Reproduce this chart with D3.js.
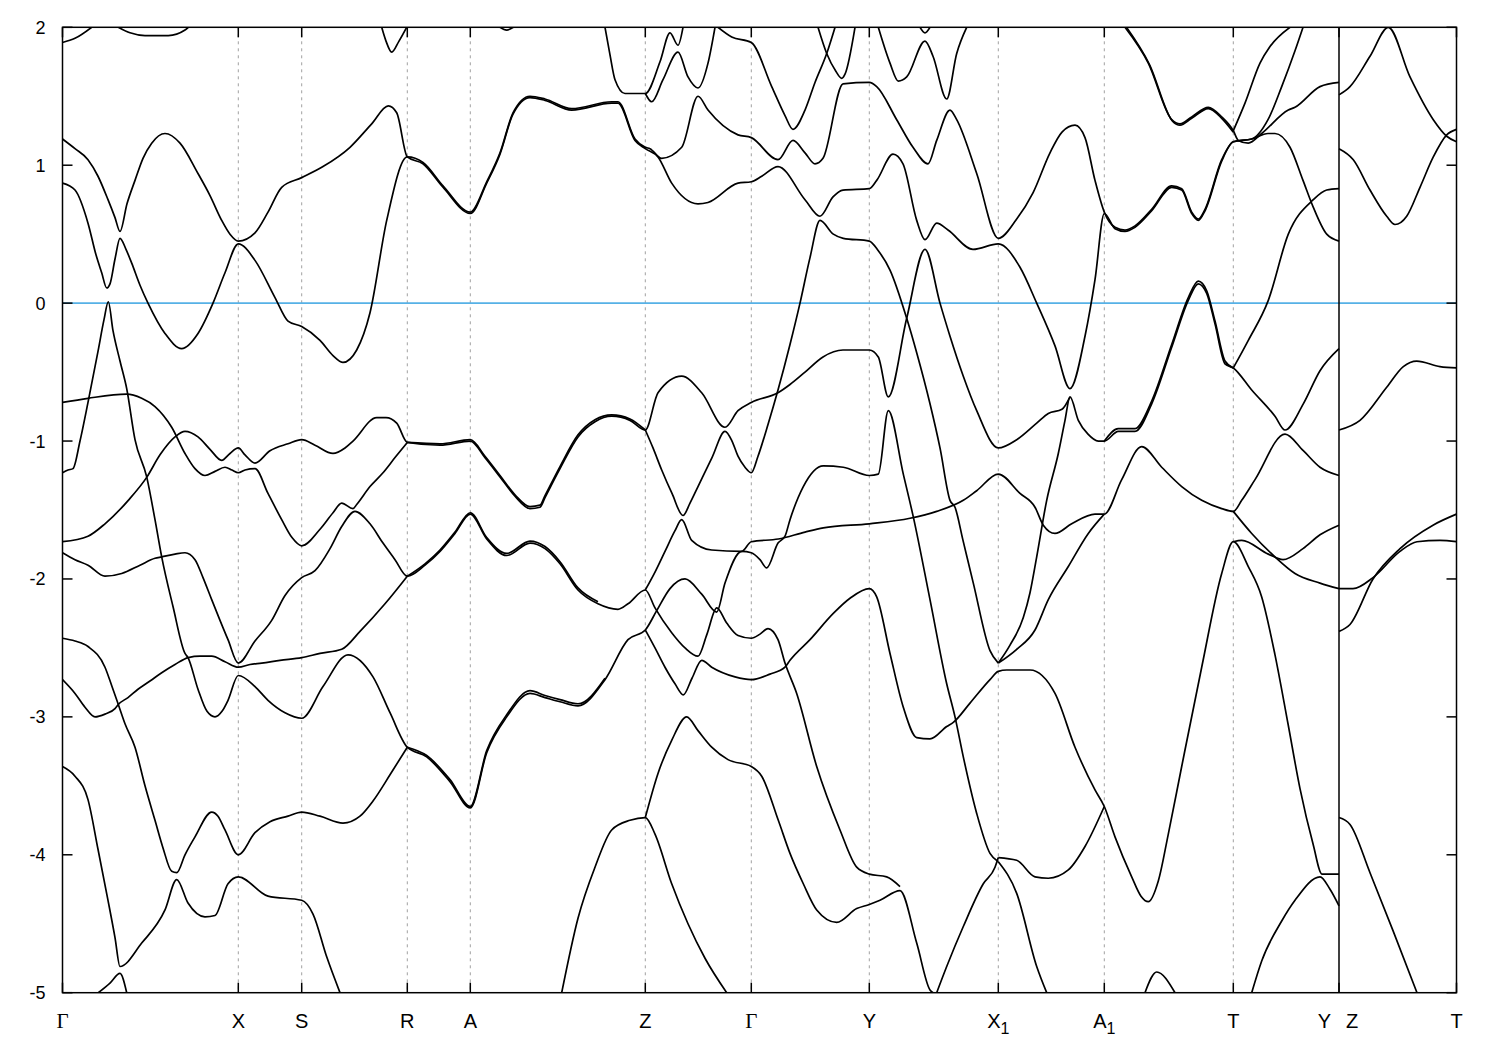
<!DOCTYPE html>
<html><head><meta charset="utf-8">
<script src="https://cdn.jsdelivr.net/npm/d3@7"></script>
<style>body{margin:0;background:#fff}svg{display:block}</style>
</head><body>
<svg id="chart" width="1500" height="1050"></svg>
<script>
// k-path positions (path length, arbitrary units) and their labels
const kTicks  = [0, 1.758, 2.392, 3.448, 4.078, 5.828, 6.888, 8.068, 9.358, 10.418, 11.708, 12.765, 13.94];
const kLabels = ["Γ", "X", "S", "R", "A", "Z", "Γ", "Y", "X_1", "A_1", "T", "Y|Z", "T"];
const breakTicks = [12.765];           // discontinuity of the path
const eTicks  = [2, 1, 0, -1, -2, -3, -4, -5];
const eDomain = [-5, 2];
const kDomain = [0, 13.94];
const fermiLevel = 0;

// band curves: [k, E(eV)]
const bands = [
 [[0,1.19],[0.125,1.12],[0.255,1.04],[0.355,0.92],[0.455,0.75],[0.525,0.62],[0.575,0.52],[0.645,0.72],[0.725,0.89],[0.805,1.05],[0.892,1.16],[1.025,1.23],[1.175,1.16],[1.355,0.94],[1.475,0.78],[1.592,0.60],[1.675,0.50],[1.758,0.45],[1.925,0.51],[2.055,0.66],[2.192,0.84],[2.392,0.91],[2.605,0.99],[2.875,1.13],[3.092,1.30],[3.258,1.43],[3.342,1.38],[3.448,1.06],[3.605,1.01],[3.805,0.84],[4.078,0.65],[4.242,0.87],[4.375,1.08],[4.505,1.37],[4.675,1.49],[4.825,1.47],[5.092,1.40],[5.492,1.45],[5.555,1.45],[5.725,1.18],[5.828,1.12],[5.955,1.06],[6.092,0.87],[6.355,0.72],[6.455,0.73],[6.755,0.87],[6.888,0.88],[6.992,0.92],[7.155,0.99],[7.425,0.75],[7.575,0.63],[7.705,0.77],[7.805,0.82],[8.068,0.83],[8.142,0.89],[8.305,1.08],[8.405,1.01],[8.542,0.60],[8.625,0.46],[8.742,0.58],[8.855,0.53],[9.105,0.39],[9.358,0.43],[9.575,0.26],[9.742,0.0],[9.925,-0.31],[10.075,-0.62],[10.225,-0.24],[10.325,0.17],[10.418,0.65],[10.525,0.54],[10.625,0.52],[10.725,0.55],[10.892,0.67],[11.092,0.84],[11.192,0.82],[11.292,0.65],[11.358,0.60],[11.425,0.67],[11.592,1.03],[11.708,1.17],[11.892,1.19],[12.055,1.23],[12.125,1.23],[12.275,1.13],[12.405,0.89],[12.505,0.70],[12.642,0.50],[12.765,0.45]],
 [[0,0.87],[0.125,0.82],[0.255,0.58],[0.335,0.35],[0.392,0.22],[0.442,0.11],[0.475,0.14],[0.525,0.32],[0.575,0.47],[0.635,0.39],[0.692,0.29],[0.775,0.13],[0.855,0.0],[1.025,-0.22],[1.192,-0.33],[1.355,-0.22],[1.505,0.0],[1.625,0.22],[1.758,0.43],[1.925,0.31],[2.125,0.04],[2.255,-0.13],[2.392,-0.17],[2.575,-0.27],[2.705,-0.38],[2.805,-0.43],[2.942,-0.34],[3.075,-0.07],[3.242,0.60],[3.448,1.06],[3.605,1.02],[3.805,0.85],[4.078,0.66],[4.242,0.88],[4.375,1.09],[4.505,1.38],[4.675,1.50],[4.825,1.48],[5.092,1.41],[5.492,1.46],[5.555,1.46],[5.725,1.19],[5.828,1.13],[5.875,1.12],[5.992,1.05],[6.192,1.13],[6.355,1.50],[6.455,1.40],[6.755,1.22],[6.888,1.20],[7.155,1.04],[7.305,1.18],[7.425,1.09],[7.525,1.01],[7.605,1.05],[7.805,1.59],[8.068,1.60],[8.142,1.57],[8.342,1.33],[8.505,1.13],[8.655,1.01],[8.742,1.18],[8.875,1.40],[8.942,1.33],[9.142,0.94],[9.358,0.47],[9.542,0.61],[9.705,0.80],[9.875,1.09],[9.995,1.24],[10.125,1.29],[10.225,1.20],[10.325,0.89],[10.418,0.66],[10.525,0.55],[10.625,0.53],[10.725,0.56],[10.892,0.68],[11.092,0.85],[11.192,0.83],[11.292,0.66],[11.358,0.61],[11.425,0.68],[11.592,1.04],[11.708,1.17],[11.892,1.19],[12.055,1.33],[12.192,1.57],[12.325,1.83],[12.405,2.0]],
 [[6.555,2.0],[6.692,1.93],[6.888,1.89],[7.092,1.57],[7.225,1.36],[7.305,1.26],[7.425,1.40],[7.525,1.60],[7.642,1.81],[7.725,2.0]],
 [[7.555,2.0],[7.642,1.81],[7.735,1.68],[7.792,1.63],[7.825,1.66],[7.925,2.0]],
 [[5.425,2.0],[5.475,1.8],[5.525,1.62],[5.625,1.52],[5.828,1.52],[5.975,1.75],[6.075,1.96],[6.155,1.87],[6.205,2.0]],
 [[5.828,1.52],[5.892,1.46],[6.005,1.62],[6.155,1.82],[6.255,1.64],[6.355,1.56],[6.455,1.74],[6.525,2.0]],
 [[8.158,2.0],[8.275,1.74],[8.358,1.61],[8.442,1.64],[8.625,1.90],[8.705,1.79],[8.842,1.48],[8.942,1.81],[9.042,2.0]],
 [[8.575,2.0],[8.625,1.96],[8.675,2.0]],
 [[0,1.89],[0.125,1.92],[0.292,2.0]],
 [[0.558,2.0],[0.675,1.96],[0.825,1.94],[1.058,1.94],[1.225,1.98],[1.258,2.0]],
 [[3.192,2.0],[3.235,1.9],[3.292,1.82],[3.365,1.9],[3.442,2.0]],
 [[4.375,2.0],[4.442,1.98],[4.508,2.0]],
 [[10.625,2.0],[10.858,1.74],[11.092,1.33],[11.175,1.30],[11.292,1.35],[11.458,1.42],[11.592,1.35],[11.708,1.25],[11.758,1.18],[11.858,1.16],[11.992,1.23],[12.258,1.40],[12.325,1.42],[12.575,1.57],[12.765,1.60]],
 [[10.64,2.0],[10.87,1.73],[11.10,1.32],[11.175,1.29],[11.292,1.34],[11.458,1.41],[11.592,1.34],[11.708,1.24]],
 [[11.708,1.25],[11.825,1.45],[11.975,1.74],[12.075,1.86],[12.275,2.0]],
 [[12.765,1.51],[12.875,1.57],[13.075,1.79],[13.258,2.0],[13.475,1.64],[13.708,1.33],[13.842,1.21],[13.94,1.17]],
 [[12.765,1.12],[12.908,1.04],[13.075,0.82],[13.242,0.63],[13.325,0.57],[13.442,0.63],[13.575,0.84],[13.708,1.06],[13.842,1.22],[13.94,1.26]],
 [[12.765,-0.92],[12.975,-0.85],[13.242,-0.61],[13.408,-0.46],[13.542,-0.42],[13.775,-0.46],[13.94,-0.47]],
 [[12.765,-2.07],[12.905,-2.07],[13.105,-1.99],[13.375,-1.80],[13.545,-1.73],[13.775,-1.72],[13.94,-1.73]],
 [[12.765,-2.38],[12.875,-2.33],[13.105,-2.0],[13.375,-1.78],[13.705,-1.61],[13.94,-1.53]],
 [[12.765,-3.73],[12.875,-3.78],[13.075,-4.13],[13.305,-4.55],[13.545,-5.0]],
 [[0,-1.73],[0.255,-1.69],[0.425,-1.6],[0.658,-1.43],[0.845,-1.26],[0.975,-1.1],[1.125,-0.97],[1.225,-0.93],[1.355,-0.97],[1.475,-1.06],[1.592,-1.14],[1.675,-1.09],[1.758,-1.05],[1.825,-1.1],[1.925,-1.16],[2.075,-1.07],[2.255,-1.02],[2.392,-0.99],[2.525,-1.03],[2.705,-1.09],[2.825,-1.05],[2.905,-1.0],[3.142,-0.83],[3.235,-0.83],[3.342,-0.87],[3.448,-1.01],[3.775,-1.03],[4.078,-1.0],[4.225,-1.12],[4.375,-1.26],[4.525,-1.4],[4.675,-1.49],[4.775,-1.48],[4.825,-1.41],[4.975,-1.2],[5.155,-0.97],[5.325,-0.86],[5.492,-0.82],[5.675,-0.85],[5.828,-0.92],[5.955,-0.65],[6.192,-0.53],[6.392,-0.65],[6.625,-0.90],[6.755,-0.78],[6.888,-0.72],[7.155,-0.65],[7.275,-0.59],[7.425,-0.50],[7.605,-0.39],[7.805,-0.34],[8.068,-0.34],[8.158,-0.39],[8.258,-0.68],[8.442,-0.11],[8.625,0.39],[8.775,0.0],[8.875,-0.24],[9.008,-0.53],[9.142,-0.78],[9.358,-1.05],[9.542,-0.99],[9.742,-0.87],[9.858,-0.80],[9.995,-0.77],[10.075,-0.68]],
 [[3.448,-1.01],[3.775,-1.02],[4.078,-0.99],[4.225,-1.11],[4.375,-1.25],[4.525,-1.39],[4.675,-1.475],[4.775,-1.465],[4.825,-1.395],[4.975,-1.185],[5.155,-0.955],[5.325,-0.845],[5.492,-0.81],[5.675,-0.84],[5.828,-0.92]],
 [[0,-0.72],[0.255,-0.69],[0.642,-0.66],[0.792,-0.69],[0.925,-0.75],[1.092,-0.90],[1.225,-1.09],[1.325,-1.2],[1.425,-1.25],[1.525,-1.22],[1.625,-1.19],[1.695,-1.21],[1.758,-1.23],[1.825,-1.21],[1.925,-1.20],[2.055,-1.38],[2.192,-1.57],[2.295,-1.7],[2.392,-1.76],[2.575,-1.64],[2.705,-1.52],[2.792,-1.45],[2.905,-1.49],[2.942,-1.46],[3.075,-1.33],[3.205,-1.23],[3.325,-1.12],[3.448,-1.01]],
 [[0,-1.23],[0.055,-1.21],[0.105,-1.2],[0.175,-1.0],[0.255,-0.72],[0.355,-0.35],[0.415,-0.12],[0.458,0.01],[0.505,-0.2],[0.575,-0.42],[0.642,-0.62],[0.725,-0.99],[0.842,-1.26],[0.925,-1.57],[0.992,-1.84],[1.105,-2.2],[1.225,-2.54],[1.255,-2.57],[1.355,-2.80],[1.445,-2.96],[1.525,-3.0],[1.595,-2.96],[1.655,-2.88],[1.758,-2.70],[1.925,-2.78],[2.055,-2.88],[2.225,-2.97],[2.392,-3.01],[2.605,-2.78],[2.855,-2.55],[3.105,-2.71],[3.275,-2.97],[3.448,-3.22],[3.642,-3.29],[3.875,-3.47],[4.078,-3.66],[4.242,-3.26],[4.442,-3.0],[4.675,-2.83],[4.825,-2.86],[4.975,-2.89],[5.155,-2.92],[5.425,-2.73],[5.655,-2.44],[5.828,-2.37],[5.942,-2.23],[6.075,-2.07],[6.225,-2.0],[6.392,-2.11],[6.542,-2.24],[6.625,-2.03],[6.792,-1.80],[6.888,-1.81],[6.975,-1.86],[7.042,-1.92],[7.155,-1.74],[7.225,-1.69],[7.275,-1.57],[7.408,-1.33],[7.608,-1.18],[7.808,-1.19],[8.068,-1.25],[8.158,-1.24],[8.258,-0.78],[8.408,-1.24],[8.508,-1.55],[8.675,-2.15],[8.842,-2.76],[8.925,-3.0],[9.008,-3.29],[9.142,-3.70],[9.275,-3.99],[9.358,-4.05]],
 [[3.448,-3.22],[3.642,-3.28],[3.875,-3.455],[4.078,-3.65],[4.242,-3.245],[4.442,-2.985],[4.675,-2.81],[4.825,-2.845],[4.975,-2.875],[5.155,-2.905],[5.425,-2.72]],
 [[0,-2.43],[0.125,-2.45],[0.255,-2.49],[0.425,-2.64],[0.495,-2.78],[0.558,-2.91],[0.625,-3.05],[0.725,-3.22],[0.825,-3.5],[0.925,-3.75],[1.005,-3.95],[1.092,-4.12],[1.142,-4.13],[1.225,-4.0],[1.325,-3.87],[1.492,-3.69],[1.555,-3.72],[1.625,-3.82],[1.758,-4.0],[1.925,-3.84],[2.075,-3.76],[2.255,-3.72],[2.392,-3.69],[2.575,-3.72],[2.805,-3.77],[2.975,-3.72],[3.105,-3.61],[3.275,-3.42],[3.448,-3.22]],
 [[0,-2.73],[0.125,-2.83],[0.225,-2.93],[0.325,-3.0],[0.425,-2.98],[0.525,-2.94],[0.558,-2.91],[0.655,-2.86],[0.755,-2.8],[0.875,-2.74],[0.992,-2.68],[1.125,-2.62],[1.258,-2.57],[1.375,-2.56],[1.492,-2.56],[1.625,-2.6],[1.758,-2.64],[1.875,-2.62],[1.992,-2.61],[2.175,-2.59],[2.392,-2.57],[2.575,-2.54],[2.792,-2.51],[2.975,-2.38],[3.225,-2.18],[3.448,-1.98]],
 [[0,-1.81],[0.125,-1.86],[0.255,-1.90],[0.425,-1.98],[0.592,-1.96],[0.775,-1.9],[0.925,-1.85],[0.992,-1.84],[1.125,-1.82],[1.225,-1.81],[1.325,-1.86],[1.405,-1.99],[1.492,-2.15],[1.575,-2.3],[1.655,-2.44],[1.758,-2.61],[1.925,-2.45],[2.092,-2.30],[2.225,-2.12],[2.392,-1.99],[2.525,-1.94],[2.675,-1.78],[2.792,-1.62],[2.925,-1.51],[3.075,-1.6],[3.205,-1.74],[3.325,-1.86],[3.448,-1.98],[3.625,-1.9],[3.775,-1.80],[3.925,-1.67],[4.078,-1.53],[4.242,-1.71],[4.442,-1.83],[4.675,-1.74],[4.825,-1.78],[4.975,-1.89],[5.155,-2.08],[5.355,-2.18],[5.555,-2.22],[5.655,-2.18],[5.828,-2.08],[5.925,-2.21],[6.092,-2.39],[6.225,-2.5],[6.355,-2.56],[6.445,-2.4],[6.542,-2.21],[6.642,-2.32],[6.755,-2.41],[6.888,-2.43],[6.975,-2.4],[7.055,-2.36],[7.155,-2.44],[7.225,-2.61],[7.342,-2.83],[7.542,-3.36],[7.775,-3.82],[7.942,-4.09],[8.068,-4.14],[8.242,-4.16],[8.375,-4.23]],
 [[3.448,-1.98],[3.625,-1.89],[3.775,-1.79],[3.925,-1.66],[4.078,-1.52],[4.242,-1.70],[4.442,-1.815],[4.675,-1.725],[4.825,-1.765],[4.975,-1.875],[5.155,-2.065],[5.355,-2.165]],
 [[5.828,-2.37],[5.925,-2.5],[6.025,-2.64],[6.125,-2.76],[6.208,-2.84],[6.295,-2.72],[6.392,-2.59],[6.492,-2.64],[6.725,-2.71],[6.888,-2.73],[7.075,-2.69],[7.225,-2.64],[7.275,-2.59],[7.475,-2.44],[7.708,-2.25],[7.875,-2.14],[8.068,-2.07],[8.142,-2.13],[8.275,-2.54],[8.408,-2.93],[8.542,-3.15],[8.675,-3.16],[8.842,-3.07],[8.908,-3.04],[9.075,-2.90],[9.275,-2.73],[9.358,-2.67],[9.442,-2.66],[9.675,-2.66],[9.925,-2.83],[10.125,-3.22],[10.325,-3.53],[10.418,-3.65],[10.525,-3.87],[10.692,-4.16],[10.785,-4.3],[10.858,-4.34],[10.958,-4.19],[11.058,-3.85],[11.192,-3.36],[11.392,-2.64],[11.592,-1.96],[11.708,-1.73],[11.858,-1.91],[11.992,-2.13],[12.125,-2.55],[12.255,-3.05],[12.375,-3.52],[12.505,-3.92],[12.595,-4.14],[12.765,-4.14]],
 [[5.828,-2.08],[5.925,-1.95],[6.025,-1.8],[6.125,-1.65],[6.192,-1.57],[6.292,-1.72],[6.492,-1.79],[6.792,-1.80],[6.888,-1.73],[7.158,-1.71],[7.425,-1.66],[7.608,-1.63],[8.068,-1.60],[8.475,-1.56],[8.742,-1.51],[9.008,-1.43],[9.142,-1.36],[9.358,-1.24],[9.575,-1.38],[9.725,-1.48],[9.808,-1.61],[9.925,-1.67],[10.092,-1.60],[10.325,-1.53],[10.418,-1.53],[10.592,-1.28],[10.792,-1.04],[10.992,-1.19],[11.192,-1.33],[11.392,-1.43],[11.592,-1.49],[11.708,-1.51],[11.792,-1.43],[11.925,-1.28],[12.225,-0.95],[12.408,-1.07],[12.575,-1.19],[12.765,-1.25]],
 [[5.828,-0.92],[5.905,-1.05],[5.992,-1.21],[6.095,-1.38],[6.205,-1.54],[6.275,-1.45],[6.355,-1.33],[6.495,-1.12],[6.625,-0.93],[6.695,-1.0],[6.755,-1.11],[6.825,-1.19],[6.888,-1.23],[6.955,-1.11],[7.055,-0.88],[7.155,-0.63],[7.275,-0.30],[7.375,0.0],[7.475,0.33],[7.575,0.60],[7.708,0.50],[7.808,0.47],[8.068,0.45],[8.158,0.38],[8.275,0.24],[8.442,-0.11],[8.542,-0.36],[8.675,-0.73],[8.775,-1.05],[8.875,-1.43],[8.925,-1.48],[9.005,-1.72],[9.108,-2.03],[9.275,-2.52],[9.358,-2.61]],
 [[9.358,-2.61],[9.475,-2.48],[9.608,-2.28],[9.675,-2.1],[9.742,-1.84],[9.842,-1.43],[9.958,-1.09],[10.025,-0.85],[10.075,-0.68],[10.158,-0.85],[10.255,-0.95],[10.358,-1.0],[10.418,-1.0],[10.558,-0.93],[10.725,-0.93],[10.892,-0.73],[11.092,-0.32],[11.258,0.02],[11.358,0.14],[11.442,0.07],[11.525,-0.15],[11.625,-0.44],[11.708,-0.47],[11.892,-0.63],[12.125,-0.82],[12.225,-0.92],[12.408,-0.73],[12.575,-0.49],[12.765,-0.33]],
 [[10.418,-1.0],[10.558,-0.91],[10.725,-0.91],[10.892,-0.71],[11.092,-0.30],[11.258,0.04],[11.358,0.16],[11.442,0.09],[11.525,-0.13],[11.625,-0.42],[11.708,-0.47]],
 [[9.358,-2.61],[9.542,-2.51],[9.725,-2.37],[9.858,-2.15],[10.058,-1.91],[10.258,-1.67],[10.418,-1.53]],
 [[11.708,-0.47],[11.858,-0.27],[12.058,0.02],[12.258,0.50],[12.508,0.75],[12.642,0.82],[12.765,0.83]],
 [[11.708,-1.51],[11.892,-1.67],[12.125,-1.84],[12.325,-1.96],[12.575,-2.03],[12.765,-2.07]],
 [[11.708,-1.73],[11.792,-1.72],[12.058,-1.82],[12.205,-1.86],[12.405,-1.78],[12.575,-1.68],[12.765,-1.61]],
 [[11.892,-5.0],[11.992,-4.77],[12.192,-4.48],[12.325,-4.33],[12.575,-4.16],[12.675,-4.25],[12.765,-4.37]],
 [[9.358,-4.02],[9.542,-4.04],[9.725,-4.16],[9.858,-4.17],[10.058,-4.11],[10.225,-3.94],[10.418,-3.65]],
 [[9.358,-4.05],[9.542,-4.28],[9.742,-4.81],[9.842,-5.0]],
 [[8.742,-5.0],[8.842,-4.81],[9.008,-4.52],[9.208,-4.21],[9.325,-4.09],[9.358,-4.02]],
 [[0,-3.36],[0.125,-3.43],[0.255,-3.6],[0.355,-3.96],[0.455,-4.33],[0.525,-4.6],[0.575,-4.81],[0.792,-4.64],[1.025,-4.40],[1.142,-4.18],[1.255,-4.35],[1.425,-4.45],[1.525,-4.44],[1.655,-4.21],[1.758,-4.16],[2.055,-4.3],[2.392,-4.33],[2.505,-4.43],[2.642,-4.74],[2.775,-5.0]],
 [[4.992,-5.0],[5.155,-4.46],[5.325,-4.09],[5.492,-3.82],[5.675,-3.75],[5.828,-3.73],[5.925,-3.85],[6.092,-4.21],[6.255,-4.50],[6.425,-4.75],[6.642,-5.0]],
 [[5.828,-3.73],[5.955,-3.41],[6.092,-3.17],[6.242,-3.0],[6.355,-3.1],[6.492,-3.22],[6.655,-3.31],[6.888,-3.36],[6.992,-3.43],[7.158,-3.75],[7.275,-3.99],[7.408,-4.21],[7.542,-4.40],[7.742,-4.49],[7.942,-4.39],[8.068,-4.36],[8.175,-4.33],[8.375,-4.26],[8.542,-4.64],[8.675,-4.98],[8.705,-5.0]],
 [[0.358,-5.0],[0.475,-4.93],[0.575,-4.86],[0.642,-5.0]],
 [[10.825,-5.0],[10.942,-4.85],[11.125,-5.0]]
];

const W = 1500, H = 1050;
const plot = {left: 62.5, right: 1456.5, top: 27.3, bottom: 992.7};
const svg = d3.select("#chart");
svg.append("rect").attr("width", W).attr("height", H).attr("fill", "#fff");

const x = d3.scaleLinear().domain(kDomain).range([plot.left, plot.right]);
const y = d3.scaleLinear().domain(eDomain).range([plot.bottom, plot.top]);

svg.append("defs").append("clipPath").attr("id", "clip")
  .append("rect").attr("x", plot.left).attr("y", plot.top)
  .attr("width", plot.right - plot.left).attr("height", plot.bottom - plot.top);

// dashed vertical grid at interior high-symmetry points
const interior = kTicks.filter((k, i) => i > 0 && i < kTicks.length - 1 && !breakTicks.includes(k));
svg.append("g").selectAll("line").data(interior).join("line")
  .attr("x1", d => x(d)).attr("x2", d => x(d))
  .attr("y1", plot.top).attr("y2", plot.bottom)
  .attr("stroke", "#a0a0a0").attr("stroke-width", 1).attr("stroke-dasharray", "3,4");

// Fermi level
svg.append("line")
  .attr("x1", plot.left).attr("x2", plot.right)
  .attr("y1", y(fermiLevel)).attr("y2", y(fermiLevel))
  .attr("stroke", "#56b1e6").attr("stroke-width", 1.6);

// bands
const line = d3.line().x(d => x(d[0])).y(d => y(d[1])).curve(d3.curveMonotoneX);
svg.append("g").attr("clip-path", "url(#clip)")
  .selectAll("path").data(bands).join("path")
  .attr("d", line).attr("fill", "none")
  .attr("stroke", "#000").attr("stroke-width", 1.7).attr("stroke-linejoin", "round");

// path discontinuity
svg.append("g").selectAll("line").data(breakTicks).join("line")
  .attr("x1", d => x(d)).attr("x2", d => x(d))
  .attr("y1", plot.top).attr("y2", plot.bottom)
  .attr("stroke", "#000").attr("stroke-width", 1.5);

// frame
svg.append("rect").attr("x", plot.left).attr("y", plot.top)
  .attr("width", plot.right - plot.left).attr("height", plot.bottom - plot.top)
  .attr("fill", "none").attr("stroke", "#000").attr("stroke-width", 1.5);

// axes ticks (inward)
const tl = 10;
const gAx = svg.append("g").attr("stroke", "#000").attr("stroke-width", 1.5);
kTicks.forEach(k => {
  gAx.append("line").attr("x1", x(k)).attr("x2", x(k)).attr("y1", plot.bottom).attr("y2", plot.bottom - tl);
  gAx.append("line").attr("x1", x(k)).attr("x2", x(k)).attr("y1", plot.top).attr("y2", plot.top + tl);
});
eTicks.forEach(e => {
  gAx.append("line").attr("x1", plot.left).attr("x2", plot.left + tl).attr("y1", y(e)).attr("y2", y(e));
  gAx.append("line").attr("x1", plot.right).attr("x2", plot.right - tl).attr("y1", y(e)).attr("y2", y(e));
});

// y tick labels
svg.append("g").selectAll("text").data(eTicks).join("text")
  .attr("x", plot.left - 17).attr("y", d => y(d)).attr("dy", "0.36em")
  .attr("text-anchor", "end")
  .attr("font-family", "'Liberation Sans', Arial, sans-serif").attr("font-size", 18)
  .text(d => String(d));

// k labels
const gl = svg.append("g").attr("font-family", "'Liberation Sans', Arial, sans-serif").attr("font-size", 20);
const lblY = plot.bottom + 35;
function addLabel(txt, px, anchor) {
  const t = gl.append("text").attr("x", px).attr("y", lblY).attr("text-anchor", anchor);
  if (txt === "Γ") { t.attr("font-family", "'Liberation Serif', 'DejaVu Serif', serif").attr("font-size", 21).text(txt); return; }
  const parts = txt.split("_");
  t.append("tspan").text(parts[0]);
  if (parts[1]) t.append("tspan").attr("font-size", 16).attr("dy", 6).text(parts[1]);
}
kTicks.forEach((k, i) => {
  const lab = kLabels[i];
  if (lab.includes("|")) {
    const [a, b] = lab.split("|");
    addLabel(a, x(k) - 8, "end");
    addLabel(b, x(k) + 7, "start");
  } else {
    addLabel(lab, x(k), "middle");
  }
});
</script>
</body></html>
